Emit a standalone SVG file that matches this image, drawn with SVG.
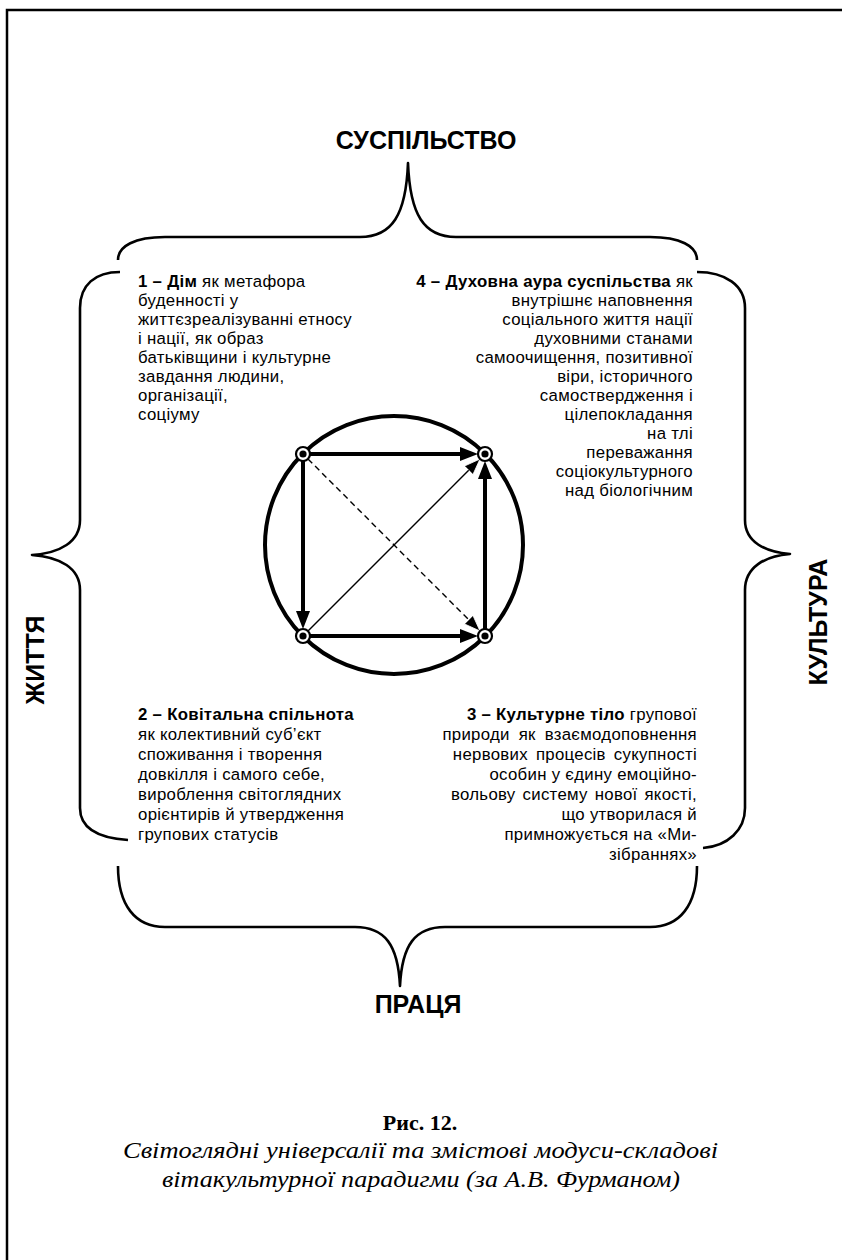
<svg xmlns="http://www.w3.org/2000/svg" width="842" height="1260" viewBox="0 0 842 1260">
  <style>
    .frame { fill: none; stroke: #000; stroke-width: 2.5; }
    .brace { fill: none; stroke: #000; stroke-width: 2.6; stroke-linejoin: round; }
    .head { font-family: "Liberation Sans", Arial, sans-serif; font-weight: bold; font-size: 25px; fill: #000; }
    .body { font-family: "Liberation Sans", Arial, sans-serif; font-size: 16.8px; letter-spacing: 0.3px; fill: #000; }
    .b { font-weight: bold; }
    .ring { fill: none; stroke: #000; stroke-width: 4; }
    .edge { fill: none; stroke: #000; stroke-width: 4; }
    .diag { fill: none; stroke: #000; stroke-width: 1.4; }
    .dash { fill: none; stroke: #000; stroke-width: 1.4; stroke-dasharray: 6 4; }
    .node { fill: #fff; stroke: #000; stroke-width: 2.2; }
    .dot { fill: #000; }
    .capb { font-family: "Liberation Serif", "Times New Roman", serif; font-weight: bold; font-size: 22px; fill: #000; }
    .capi { font-family: "Liberation Serif", "Times New Roman", serif; font-style: italic; font-size: 24px; fill: #000; }
  </style>
  <defs>
    <marker id="arrowBig" markerUnits="userSpaceOnUse" markerWidth="20" markerHeight="16" refX="0" refY="7" orient="auto">
      <path d="M0,0 L18,7 L0,14 z" fill="#000"/>
    </marker>
    <marker id="arrowThin" markerUnits="userSpaceOnUse" markerWidth="18" markerHeight="14" refX="0" refY="6" orient="auto">
      <path d="M0,0 L16,6 L0,12 z" fill="#000" stroke="#fff" stroke-width="0.8"/>
    </marker>
  </defs>

  <rect width="842" height="1260" fill="#fff"/>

  <!-- page frame (top and left rules) -->
  <path class="frame" d="M7,1260 L7,10 L842,10"/>

  <!-- universals and their braces -->
  <g id="suspilstvo">
    <text class="head" x="426" y="149" text-anchor="middle">СУСПІЛЬСТВО</text>
    <path class="brace" d="M118,260 C118,246 135,237 165,237 L360,237 C392,237 406,215 408,163 C410,215 424,237 456,237 L650,237 C680,237 697,246 697,260"/>
  </g>

  <g id="zhyttia">
    <text class="head" transform="translate(44,660) rotate(-90)" text-anchor="middle">ЖИТТЯ</text>
    <path class="brace" d="M120,272 C95,272 80,285 80,308 L80,520 C80,542 60,553 32,555 C60,557 80,568 80,590 L80,808 C80,828 98,838 128,840"/>
  </g>

  <g id="kultura">
    <text class="head" transform="translate(827,622) rotate(-90)" text-anchor="middle">КУЛЬТУРА</text>
    <path class="brace" d="M697,272 C725,272 745,285 745,308 L745,520 C745,542 765,552 790,554 C765,556 745,567 745,590 L745,808 C745,830 728,846 703,848"/>
  </g>

  <g id="pratsia">
    <text class="head" x="418" y="1013" text-anchor="middle">ПРАЦЯ</text>
    <path class="brace" d="M118,866 C118,905 135,927 165,927 L355,927 C385,927 398,945 400,986 C402,945 415,927 445,927 L650,927 C680,927 697,905 697,866"/>
  </g>

  <!-- text blocks -->
  <g id="block-1">
    <text class="body" x="138" y="287"><tspan class="b">1 – Дім</tspan> як метафора</text>
    <text class="body" x="138" y="306">буденності  у</text>
    <text class="body" x="138" y="325">життєзреалізуванні  етносу</text>
    <text class="body" x="138" y="344">і нації, як образ</text>
    <text class="body" x="138" y="363">батьківщини і культурне</text>
    <text class="body" x="138" y="382">завдання  людини,</text>
    <text class="body" x="138" y="401">організації,</text>
    <text class="body" x="138" y="420">соціуму</text>
  </g>

  <g id="block-4" text-anchor="end">
    <text class="body" x="693" y="287"><tspan class="b">4 – Духовна аура суспільства</tspan> як</text>
    <text class="body" x="693" y="306">внутрішнє  наповнення</text>
    <text class="body" x="693" y="325">соціального життя нації</text>
    <text class="body" x="693" y="344">духовними  станами</text>
    <text class="body" x="693" y="363">самоочищення, позитивної</text>
    <text class="body" x="693" y="382">віри,  історичного</text>
    <text class="body" x="693" y="401">самоствердження і</text>
    <text class="body" x="693" y="420">цілепокладання</text>
    <text class="body" x="693" y="439">на тлі</text>
    <text class="body" x="693" y="458">переважання</text>
    <text class="body" x="693" y="477">соціокультурного</text>
    <text class="body" x="693" y="496">над біологічним</text>
  </g>

  <g id="block-2">
    <text class="body" x="138" y="720"><tspan class="b">2 – Ковітальна спільнота</tspan></text>
    <text class="body" x="138" y="740">як колективний суб’єкт</text>
    <text class="body" x="138" y="760">споживання і творення</text>
    <text class="body" x="138" y="780">довкілля і самого себе,</text>
    <text class="body" x="138" y="800">вироблення світоглядних</text>
    <text class="body" x="138" y="820">орієнтирів й утвердження</text>
    <text class="body" x="138" y="840">групових  статусів</text>
  </g>

  <g id="block-3" text-anchor="end">
    <text class="body" x="697" y="720"><tspan class="b">3 – Культурне тіло</tspan> групової</text>
    <text class="body" x="697" y="740" word-spacing="4">природи як взаємодоповнення</text>
    <text class="body" x="697" y="760" word-spacing="3">нервових процесів   сукупності</text>
    <text class="body" x="697" y="780">особин у єдину емоційно-</text>
    <text class="body" x="697" y="800" word-spacing="2">вольову систему нової  якості,</text>
    <text class="body" x="697" y="820">що утворилася й</text>
    <text class="body" x="697" y="840">примножується на «Ми-</text>
    <text class="body" x="697" y="860">зібраннях»</text>
  </g>

  <!-- central scheme: circle with inscribed square of modes -->
  <circle id="whole" class="ring" cx="394" cy="545" r="129"/>

  <g id="connectors">
    <line class="edge" x1="303" y1="454" x2="460" y2="454" marker-end="url(#arrowBig)"/>
    <line class="edge" x1="303" y1="454" x2="303" y2="611" marker-end="url(#arrowBig)"/>
    <line class="edge" x1="303" y1="636" x2="460" y2="636" marker-end="url(#arrowBig)"/>
    <line class="edge" x1="485" y1="636" x2="485" y2="479" marker-end="url(#arrowBig)"/>
    <line class="diag" x1="308" y1="631" x2="468.7" y2="470.3" marker-end="url(#arrowThin)"/>
    <line class="dash" x1="308" y1="459" x2="468.7" y2="619.7" marker-end="url(#arrowThin)"/>
  </g>

  <g id="node-1"><circle class="node" cx="303" cy="454" r="7"/><circle class="dot" cx="303" cy="454" r="3.6"/></g>
  <g id="node-4"><circle class="node" cx="485" cy="454" r="7"/><circle class="dot" cx="485" cy="454" r="3.6"/></g>
  <g id="node-2"><circle class="node" cx="303" cy="636" r="7"/><circle class="dot" cx="303" cy="636" r="3.6"/></g>
  <g id="node-3"><circle class="node" cx="485" cy="636" r="7"/><circle class="dot" cx="485" cy="636" r="3.6"/></g>

  <!-- caption -->
  <g id="caption">
    <text class="capb" x="420" y="1130" text-anchor="middle">Рис. 12.</text>
    <text class="capi" x="123" y="1158" textLength="595" lengthAdjust="spacingAndGlyphs">Світоглядні універсалії та змістові модуси-складові</text>
    <text class="capi" x="162" y="1187" textLength="518" lengthAdjust="spacingAndGlyphs">вітакультурної парадигми (за А.В. Фурманом)</text>
  </g>
</svg>
